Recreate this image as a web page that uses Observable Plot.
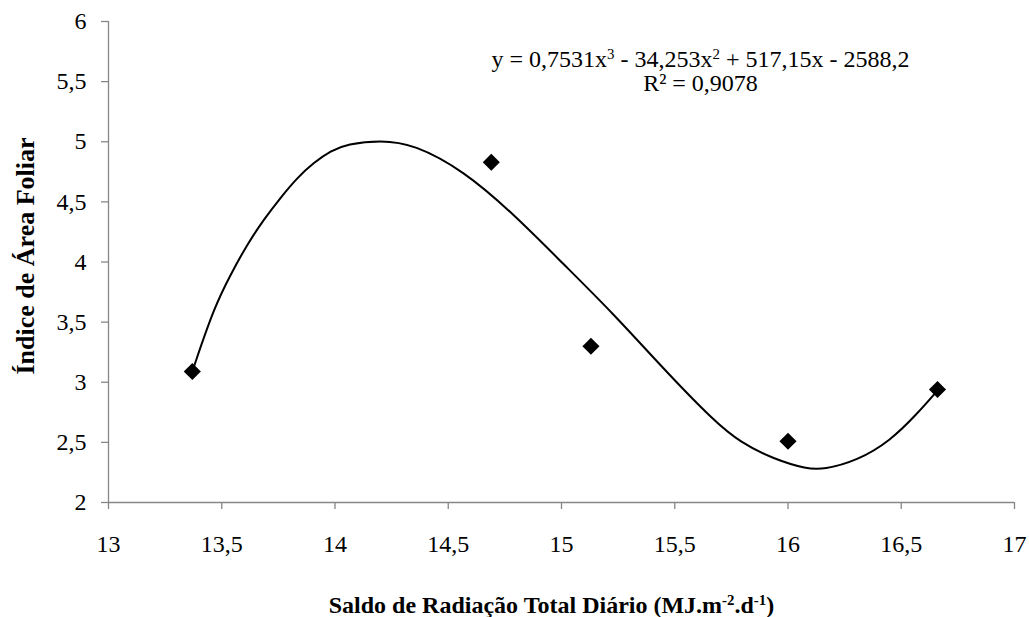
<!DOCTYPE html>
<html>
<head>
<meta charset="utf-8">
<script src="https://cdn.jsdelivr.net/npm/d3@7"></script>
<script src="https://cdn.jsdelivr.net/npm/@observablehq/plot@0.6"></script>
<style>
  html, body { margin: 0; padding: 0; background: #fff; }
  #chart svg, #chart svg text { font-family: "Liberation Serif", "Times New Roman", serif; }
</style>
</head>
<body>
<div id="chart"></div>
<script>
// Observed points
const radiacao = [13.37, 14.69, 15.13, 16.0, 16.66];
const iaf = [3.09, 4.83, 3.30, 2.51, 2.94];

// Trend curve
const curveX = [13.371, 13.466, 13.540, 13.613, 13.687, 13.760, 13.834, 13.907, 13.981, 14.054, 14.201, 14.348, 14.569, 14.789, 15.010, 15.231, 15.451, 15.672, 15.790, 15.937, 16.084, 16.157, 16.305, 16.452, 16.569, 16.662];
const curveY = [3.095, 3.622, 3.899, 4.149, 4.357, 4.536, 4.703, 4.827, 4.925, 4.980, 5.014, 4.980, 4.758, 4.398, 3.980, 3.567, 3.110, 2.680, 2.499, 2.361, 2.278, 2.274, 2.347, 2.513, 2.735, 2.935];

// Ticks
const xTicks = [13, 13.5, 14, 14.5, 15, 15.5, 16, 16.5, 17];
const yTicks = [2, 2.5, 3, 3.5, 4, 4.5, 5, 5.5, 6];

// Texts
const equation = "y = 0,7531x{3} - 34,253x{2} + 517,15x - 2588,2";
const r2 = "R² = 0,9078";
const xTitle = "Saldo de Radiação Total Diário (MJ.m{-2}.d{-1})";
const yTitle = "Índice de Área Foliar";

const points = radiacao.map((x, i) => ({x, y: iaf[i]}));
const curve = curveX.map((x, i) => ({x, y: curveY[i]}));
const fmt = d => String(d).replace(".", ",");
const axisColor = "#878787";
const serif = "Liberation Serif";
const fs = 24;

const plot = Plot.plot({
  width: 1029,
  height: 617,
  marginLeft: 108,
  marginRight: 15,
  marginTop: 21,
  marginBottom: 115,
  style: {fontFamily: serif, fontSize: fs + "px", color: "#000", background: "#fff"},
  x: {domain: [13, 17]},
  y: {domain: [2, 6]},
  marks: [
    Plot.ruleY([2], {stroke: axisColor, strokeWidth: 1.3}),
    Plot.ruleX([13], {stroke: axisColor, strokeWidth: 1.3}),
    Plot.axisX({ticks: xTicks, tickFormat: fmt, tickSize: 7, tickPadding: 25, stroke: axisColor, strokeWidth: 1.3, label: null, fill: "#000", fontSize: fs, fontFamily: serif}),
    Plot.axisY({ticks: yTicks, tickFormat: fmt, tickSize: 7, tickPadding: 15, stroke: axisColor, strokeWidth: 1.3, label: null, fill: "#000", fontSize: fs, fontFamily: serif}),
    Plot.line(curve, {x: "x", y: "y", curve: "basis", stroke: "#000", strokeWidth: 2}),
    Plot.dot(points, {x: "x", y: "y", symbol: "diamond2", r: 7.7, fill: "#000", stroke: "none"}),
    Plot.text([equation], {frameAnchor: "top", dx: 139, dy: 45, lineAnchor: "bottom", fontSize: fs, fontFamily: serif, fill: "#000"}),
    Plot.text([r2], {frameAnchor: "top", dx: 139, dy: 69, lineAnchor: "bottom", fontSize: fs, fontFamily: serif, fill: "#000"}),
    Plot.text([xTitle], {frameAnchor: "bottom", dx: -10, dy: 110, lineAnchor: "bottom", fontSize: fs, fontFamily: serif, fontWeight: "bold", fill: "#000"}),
    Plot.text([yTitle], {frameAnchor: "left", textAnchor: "middle", dx: -83, dy: -6, rotate: -90, fontSize: 26, fontFamily: serif, fontWeight: "bold", fill: "#000"})
  ]
});

// Turn {..} markers into real superscripts
const ns = "http://www.w3.org/2000/svg";
plot.querySelectorAll("text").forEach(t => {
  const s = t.textContent;
  if (!s.includes("{")) return;
  t.textContent = "";
  s.split(/(\{[^}]*\})/).forEach(p => {
    if (!p) return;
    const ts = document.createElementNS(ns, "tspan");
    if (p.startsWith("{")) {
      ts.textContent = p.slice(1, -1);
      ts.setAttribute("baseline-shift", "super");
      ts.setAttribute("font-size", "0.62em");
    } else {
      ts.textContent = p;
    }
    t.appendChild(ts);
  });
});

document.getElementById("chart").appendChild(plot);
</script>
</body>
</html>
